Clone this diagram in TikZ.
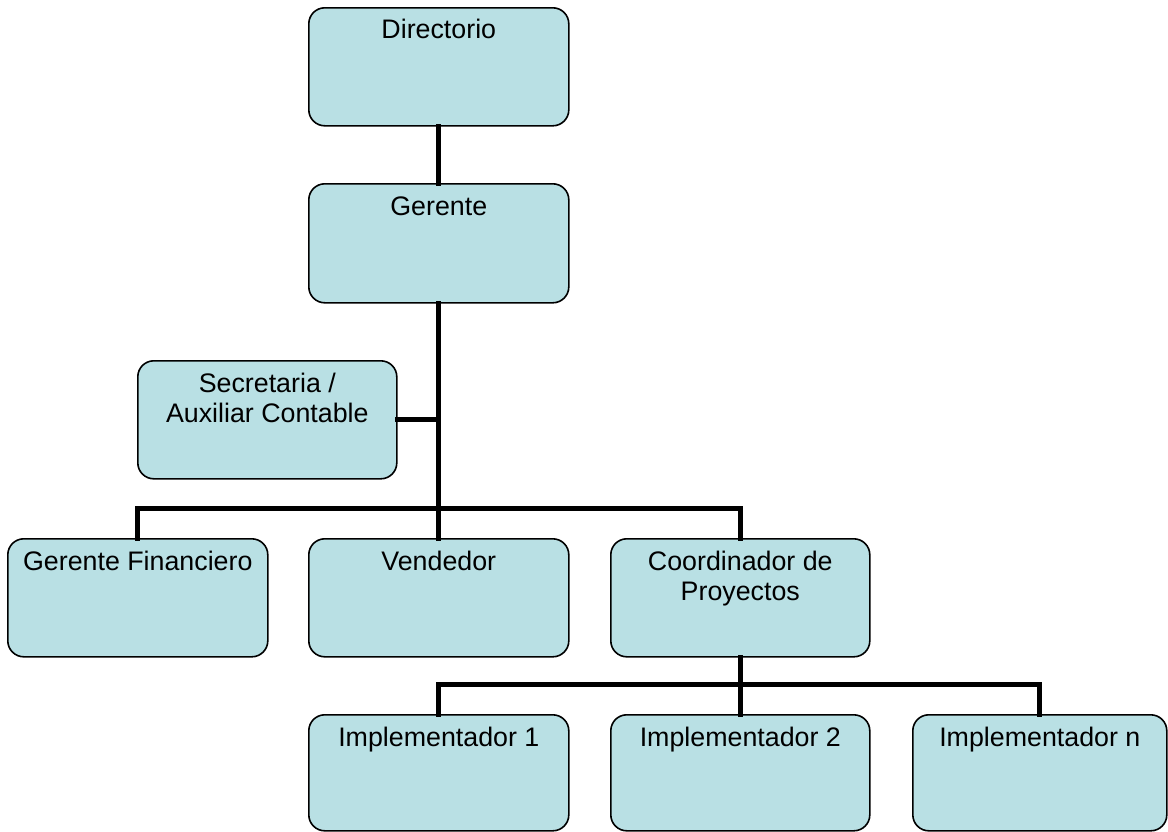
\documentclass[tikz,border=0pt]{standalone}
\usepackage{fontspec}
\setmainfont{Liberation Sans}
\definecolor{boxfill}{RGB}{185,224,228}
\begin{document}
\begin{tikzpicture}[x=1pt,y=-1pt,
  orgbox/.style={draw=black, line width=1.6pt, fill=boxfill, rounded corners=16pt,
    inner sep=0pt, anchor=north west, minimum width=260pt, minimum height=118pt},
  lbl/.style={inner sep=0pt, anchor=base, align=center,
    font=\fontsize{26.8}{30}\selectfont},
  link/.style={line width=5pt, line join=miter, line cap=rect}]
\useasboundingbox (0,0) rectangle (1168,831);

% boxes
\node[orgbox] (dir) at (308,7) {};
\node[orgbox, minimum height=119pt] (ger) at (308,183) {};
\node[orgbox, minimum width=259pt] (sec) at (137,360) {};
\node[orgbox] (gf)  at (7,538) {};
\node[orgbox] (ven) at (308,538) {};
\node[orgbox, minimum width=259pt] (coo) at (610,538) {};
\node[orgbox, minimum height=116pt] (i1) at (308,714) {};
\node[orgbox, minimum width=259pt, minimum height=116pt] (i2) at (610,714) {};
\node[orgbox, minimum width=254pt, minimum height=116pt] (in) at (912,714) {};

% texts (a two-line label sits on the baseline of its last line)
\node[lbl] (dirt) at ([yshift=-31pt]dir.north) {Directorio};
\node[lbl] (gert) at ([yshift=-32pt]ger.north) {Gerente};
\node[lbl] (sect) at ([yshift=-62pt]sec.north) {Secretaria /\\Auxiliar Contable};
\node[lbl] (gft)  at ([yshift=-32pt]gf.north) {Gerente Financiero};
\node[lbl] (vent) at ([yshift=-32pt]ven.north) {Vendedor};
\node[lbl] (coot) at ([yshift=-62pt]coo.north) {Coordinador de\\Proyectos};
\node[lbl] (i1t)  at ([yshift=-32pt]i1.north) {Implementador 1};
\node[lbl] (i2t)  at ([yshift=-32pt]i2.north) {Implementador 2};
\node[lbl] (int)  at ([yshift=-32pt]in.north) {Implementador n};

% junctions of the connector lines
\coordinate (bus1) at (438,508);
\coordinate (bus2) at (739,684);

% connectors
\draw[link] (dir.south) -- (ger.north);
\draw[link] (ger.south) -- (ven.north);
\draw[link] (sec.east) -- (sec.east -| ger.south);
\draw[link] (gf.north) |- (bus1) -| (coo.north);
\draw[link] (coo.south) -- (i2.north);
\draw[link] (i1.north) |- (bus2) -| (in.north);
\end{tikzpicture}
\end{document}
